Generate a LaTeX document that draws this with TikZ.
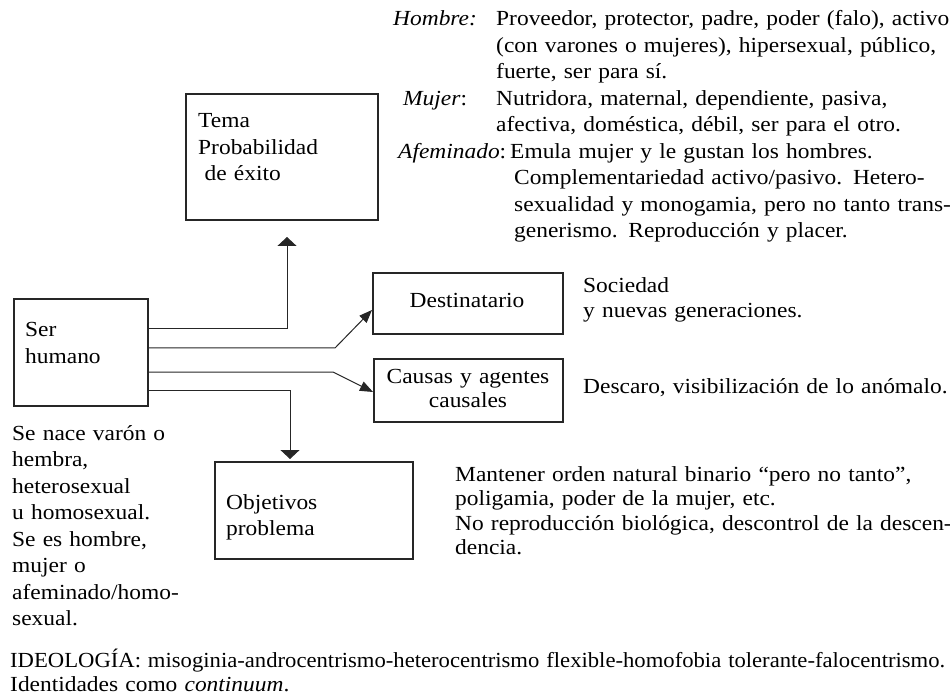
\documentclass[tikz,border=0pt]{standalone}
\usepackage{fontspec}
\setmainfont{Liberation Serif}[FakeStretch=1.09]
\usetikzlibrary{arrows.meta}
\begin{document}
\begin{tikzpicture}[x=1pt,y=-1pt,
  box/.style={draw=black!85, line width=2.2pt, inner sep=0pt, anchor=north west},
  txt/.style={inner sep=0pt, anchor=base west, align=left, text width=600pt},
  ctxt/.style={inner sep=0pt, anchor=base, align=center, text width=200pt},
  tight/.style={font=\fontsize{21.5}{24.5}\selectfont},
  conn/.style={line width=1pt, draw=black!85},
  vhead/.style={-{Triangle[length=9pt,width=19pt]}},
  dhead/.style={-{Triangle[length=13pt,width=10pt]}},
  every node/.append style={font=\fontsize{21.5}{26.5}\selectfont}
]
\useasboundingbox (0,0) rectangle (950,700);

% boxes
\node[box, minimum width=192pt, minimum height=126pt] (tema) at (185,93) {};
\node[box, minimum width=134pt, minimum height=107pt] (ser) at (13,298) {};
\node[box, minimum width=190pt, minimum height=61pt] (dest) at (372,272) {};
\node[box, minimum width=189pt, minimum height=63pt] (causas) at (373,358) {};
\node[box, minimum width=198pt, minimum height=97pt] (obj) at (214,461) {};

% box texts
\node[txt] (tematxt) at (198,128) {Tema\\Probabilidad\\\hspace{.3em}de éxito};
\node[txt] (sertxt) at (25,337) {Ser\\humano};
\node[inner sep=0pt, anchor=base] (desttxt) at (467,308) {Destinatario};
\node[ctxt, tight] (causastxt) at (468,383) {Causas y agentes\\causales};
\node[txt] (objtxt) at (226,509) {Objetivos\\problema};

% top right block
\node[txt] (hlab) at (393,26) {\textit{Hombre:}};
\node[txt] (htxt) at (496,26) {Proveedor, protector, padre, poder (falo), activo\\(con varones o mujeres), hipersexual, público,\\fuerte, ser para sí.};
\node[txt] (mlab) at (403,105.5) {\textit{Mujer}:};
\node[txt] (mtxt) at (496,105.5) {Nutridora, maternal, dependiente, pasiva,\\afectiva, doméstica, débil, ser para el otro.};
\node[txt] (alab) at (398,158.5) {\textit{Afeminado}:};
\node[txt] (atxt1) at (510,158.5) {Emula mujer y le gustan los hombres.};
\node[txt] (atxt2) at (514,185) {Complementariedad activo/pasivo. Hetero-\\sexualidad y monogamia, pero no tanto trans-\\generismo. Reproducción y placer.};

% right texts
\node[txt, tight] (soc) at (583,293) {Sociedad\\y nuevas generaciones.};
\node[txt] (desc) at (583,393) {Descaro, visibilización de lo anómalo.};
\node[txt, tight] (mant) at (455,481) {Mantener orden natural binario “pero no tanto”,\\poligamia, poder de la mujer, etc.\\No reproducción biológica, descontrol de la descen-\\dencia.};

% left text
\node[txt] (nace) at (12,440) {Se nace varón o\\hembra,\\heterosexual\\u homosexual.\\Se es hombre,\\mujer o\\afeminado/homo-\\sexual.};

% bottom
\node[txt, tight] (ideo) at (10,667) {\resizebox{935pt}{\height}{IDEOLOGÍA: misoginia-androcentrismo-heterocentrismo flexible-homofobia tolerante-falocentrismo.}\\Identidades como \textit{continuum}.};

% connectors
\coordinate (s1) at (147,329); \coordinate (t1) at (287,237);
\coordinate (s2) at (147,348); \coordinate (k2) at (335,348); \coordinate (t2) at (372,310);
\coordinate (s3) at (147,372); \coordinate (k3) at (333,372); \coordinate (t3) at (373,392);
\coordinate (s4) at (147,390); \coordinate (t4) at (290,459);
\draw[conn,vhead] (s1) -| (t1);
\draw[conn,dhead] (s2) -- (k2) -- (t2);
\draw[conn,dhead] (s3) -- (k3) -- (t3);
\draw[conn,vhead] (s4) -| (t4);
\end{tikzpicture}
\end{document}
